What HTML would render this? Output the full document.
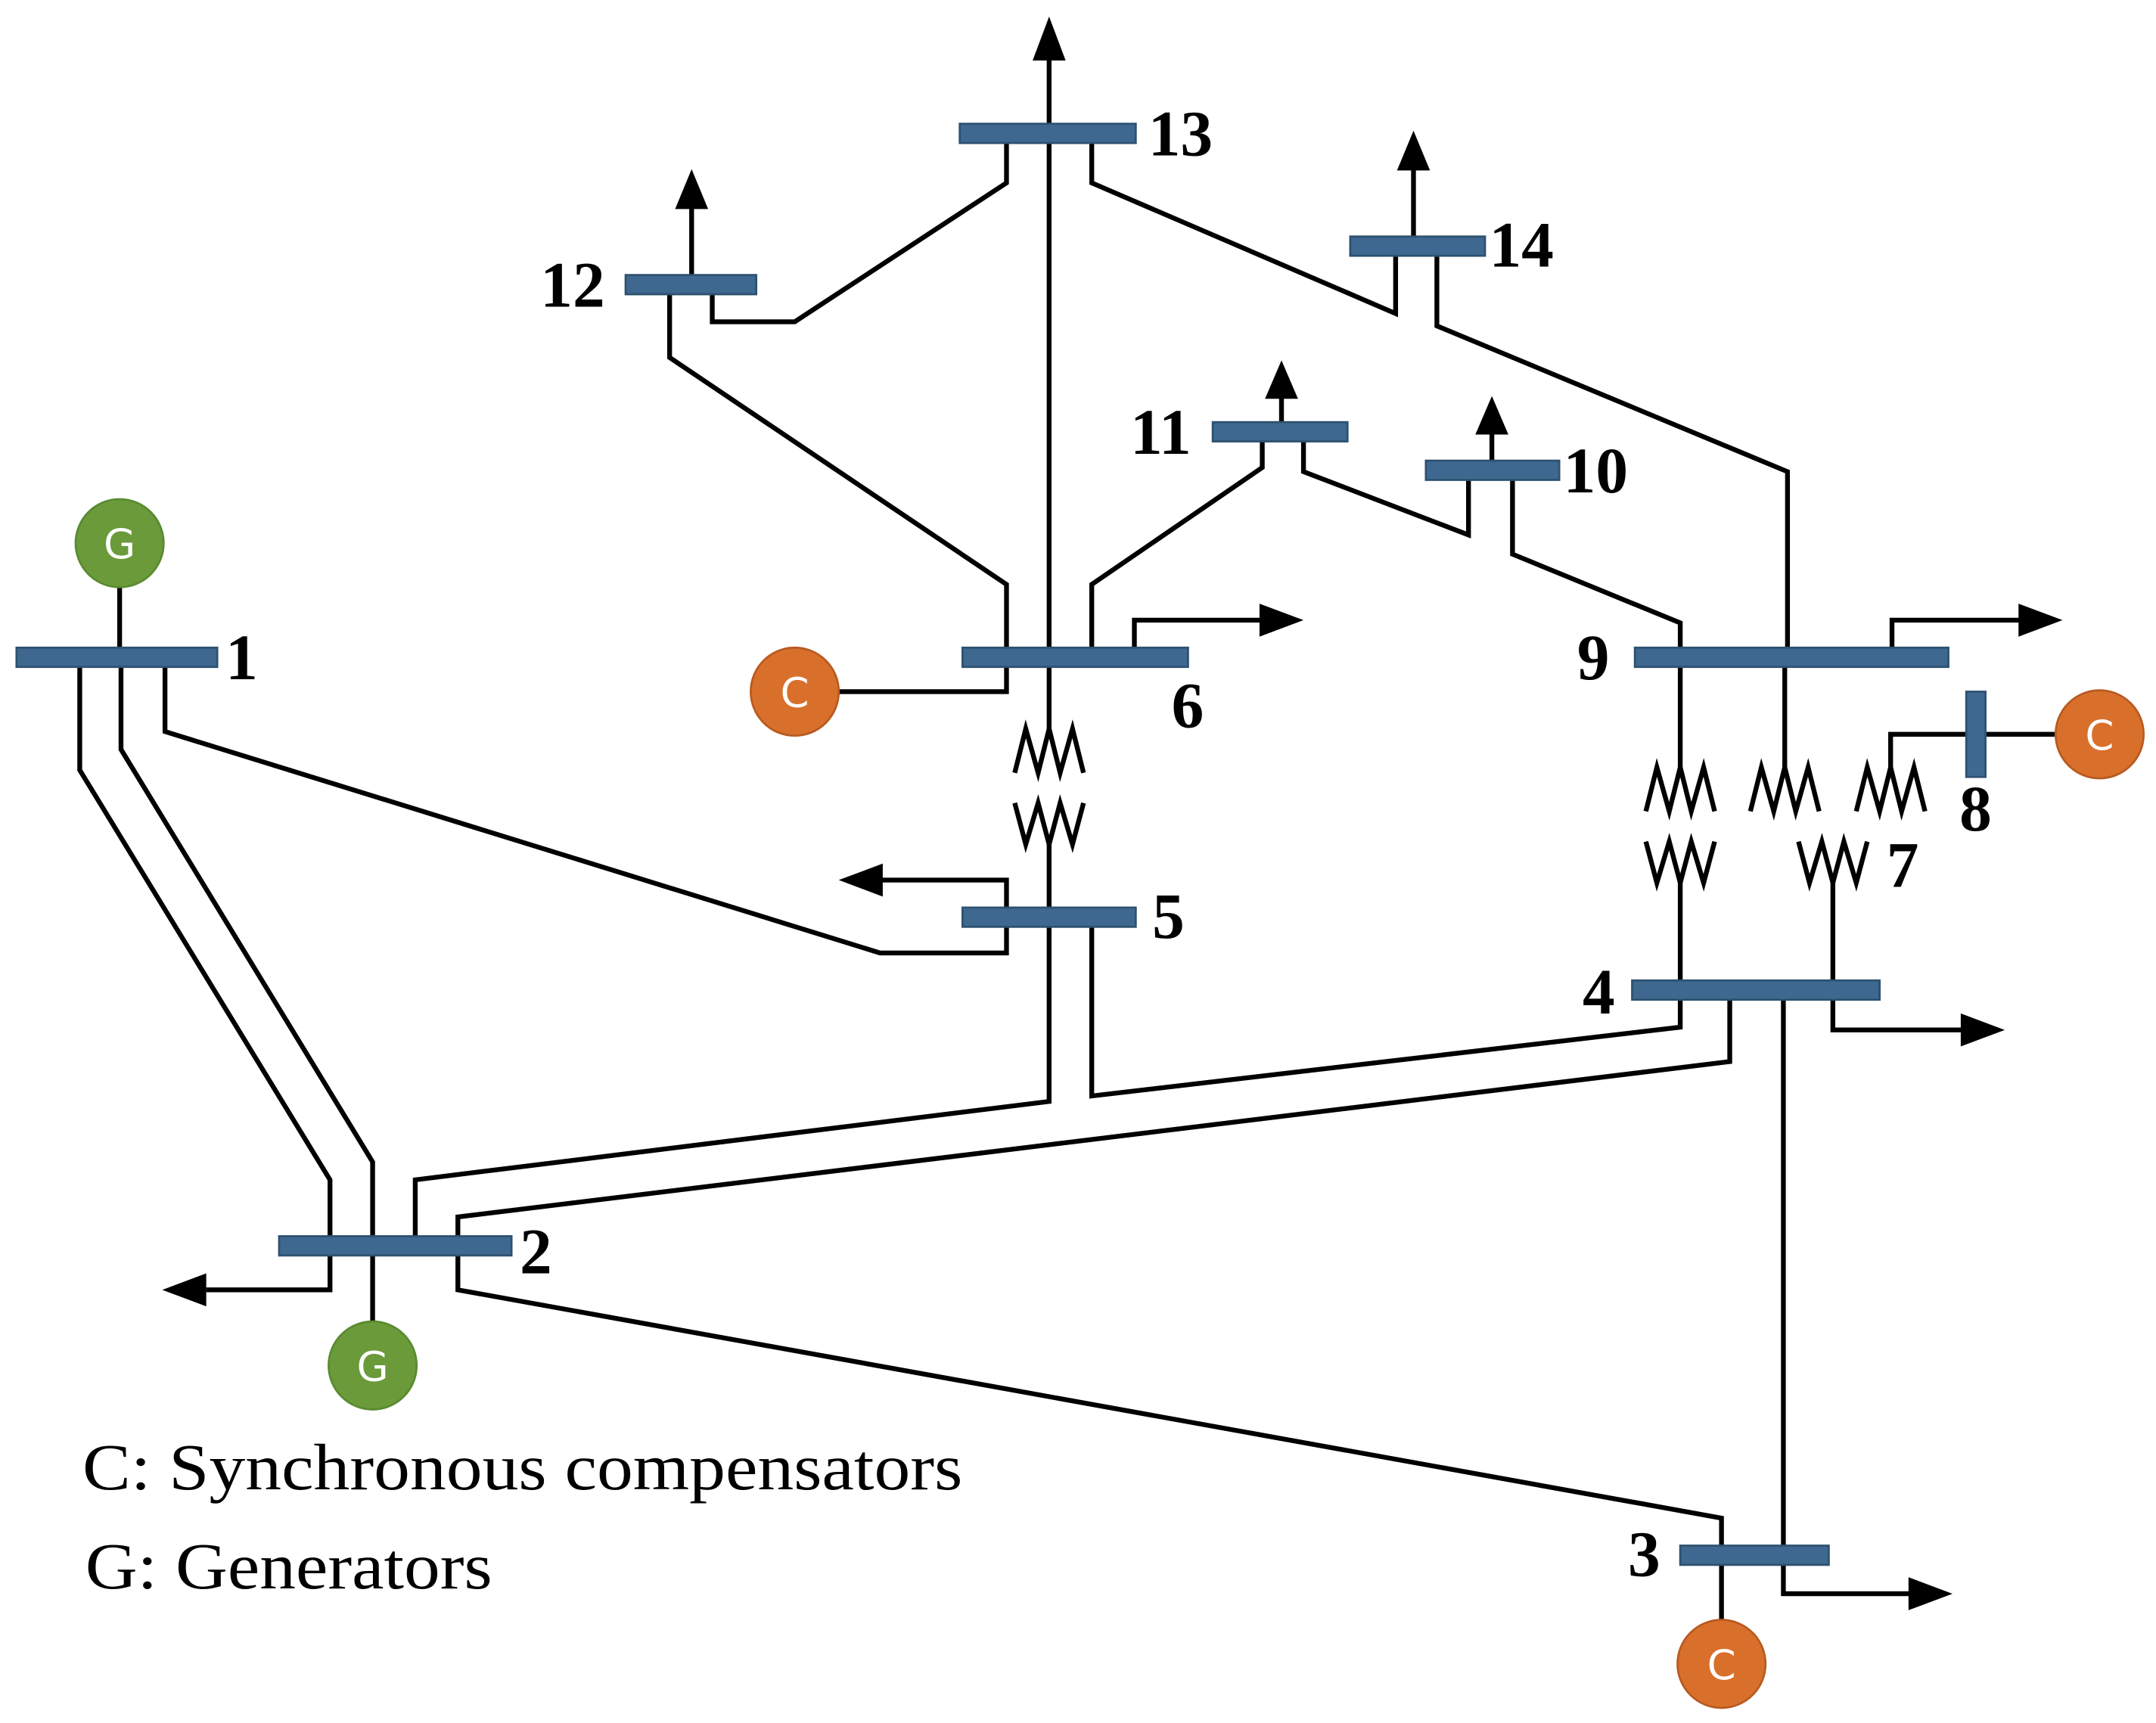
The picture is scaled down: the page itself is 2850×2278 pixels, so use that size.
<!DOCTYPE html>
<html><head><meta charset="utf-8"><style>
html,body{margin:0;padding:0;background:#fff}
svg{display:block}
.l{fill:none;stroke:#000;stroke-width:3.5;stroke-linejoin:miter}
.b{fill:#3e6890;stroke:#2e5170;stroke-width:1.5}
.t{font-family:"Liberation Serif",serif;font-weight:bold;font-size:47px;fill:#000}
.g{fill:#6a9a3a;stroke:#5a8a30;stroke-width:1.5}
.c{fill:#d8702c;stroke:#b85a20;stroke-width:1.5}
.ct{font-family:"DejaVu Sans",sans-serif;font-size:30px;fill:#fff;text-anchor:middle}
.lg{font-family:"Liberation Serif",serif;font-size:48px;fill:#000}
</style></head><body>
<svg width="2850" height="2278" viewBox="0 0 1568 1253" preserveAspectRatio="none" xmlns="http://www.w3.org/2000/svg">
<g class="l">
<polyline points="58,484 58,560 240,858 240,906"/>
<polyline points="88,484 88,545 271,845 271,962"/>
<line x1="87" y1="420" x2="87" y2="478"/>
<polyline points="120,484 120,532 640,693 732,693 732,667"/>
<polyline points="732,667 732,640 640,640"/>
<polyline points="240,906 240,938 150,938"/>
<polyline points="302,906 302,858 763,801 763,667"/>
<polyline points="794,667 794,797 1222,747 1222,720"/>
<polyline points="333,906 333,885 1258,772 1258,720"/>
<polyline points="333,906 333,938 1252,1104 1252,1180"/>
<polyline points="1297,720 1297,1159 1390,1159"/>
<polyline points="1333,720 1333,749 1428,749"/>
<line x1="1222" y1="720" x2="1222" y2="642"/>
<polyline points="1197,612 1205,642 1214,612 1222,642 1230,612 1239,642 1247,612"/>
<polyline points="1197,590 1205,558 1214,590 1222,558 1230,590 1239,558 1247,590"/>
<line x1="1222" y1="558" x2="1222" y2="478"/>
<line x1="1333" y1="720" x2="1333" y2="642"/>
<polyline points="1308,612 1316,642 1325,612 1333,642 1341,612 1350,642 1358,612"/>
<polyline points="1273,590 1281,558 1290,590 1298,558 1306,590 1315,558 1323,590"/>
<line x1="1298" y1="558" x2="1298" y2="478"/>
<polyline points="1350,590 1358,558 1367,590 1375,558 1383,590 1392,558 1400,590"/>
<polyline points="1375,558 1375,534 1497,534"/>
<line x1="763" y1="667" x2="763" y2="614"/>
<polyline points="738,584 746,614 755,584 763,614 771,584 780,614 788,584"/>
<polyline points="738,562 746,530 755,562 763,530 771,562 780,530 788,562"/>
<line x1="763" y1="530" x2="763" y2="42"/>
<polyline points="825,478 825,451 918,451"/>
<polyline points="610,503 732,503 732,478"/>
<polyline points="732,478 732,425 487,260 487,207"/>
<polyline points="794,478 794,425 918,340 918,314"/>
<line x1="932" y1="314" x2="932" y2="288"/>
<polyline points="948,314 948,343 1068,389 1068,342"/>
<line x1="1085" y1="342" x2="1085" y2="314"/>
<polyline points="1100,342 1100,403 1222,453 1222,478"/>
<polyline points="1376,478 1376,451 1470,451"/>
<polyline points="1300,478 1300,343 1045,237 1045,179"/>
<line x1="1028" y1="179" x2="1028" y2="122"/>
<polyline points="794,97 794,133 1015,228 1015,179"/>
<polyline points="518,207 518,234 578,234 732,133 732,97"/>
<line x1="503" y1="207" x2="503" y2="150"/>
</g>
<g fill="#000">
<path d="M610,640 L642,628 L642,652z"/>
<path d="M118,938 L150,926 L150,950z"/>
<path d="M1420,1159 L1388,1147 L1388,1171z"/>
<path d="M1458,749 L1426,737 L1426,761z"/>
<path d="M948,451 L916,439 L916,463z"/>
<path d="M1500,451 L1468,439 L1468,463z"/>
<path d="M763,12 L751,44 L775,44z"/>
<path d="M932,262 L920,290 L944,290z"/>
<path d="M1085,288 L1073,316 L1097,316z"/>
<path d="M1028,95 L1016,124 L1040,124z"/>
<path d="M503,123 L491,152 L515,152z"/>
</g>
<rect class="b" x="12" y="471" width="146" height="14"/>
<rect class="b" x="203" y="899" width="169" height="14"/>
<rect class="b" x="1222" y="1124" width="108" height="14"/>
<rect class="b" x="1187" y="713" width="180" height="14"/>
<rect class="b" x="700" y="660" width="126" height="14"/>
<rect class="b" x="700" y="471" width="164" height="14"/>
<rect class="b" x="1189" y="471" width="228" height="14"/>
<rect class="b" x="698" y="90" width="128" height="14"/>
<rect class="b" x="455" y="200" width="95" height="14"/>
<rect class="b" x="982" y="172" width="98" height="14"/>
<rect class="b" x="882" y="307" width="98" height="14"/>
<rect class="b" x="1037" y="335" width="97" height="14"/>
<rect class="b" x="1430" y="503" width="14" height="62"/>
<circle class="g" cx="87" cy="395" r="32"/><text class="ct" x="87" y="406">G</text>
<circle class="g" cx="271" cy="993" r="32"/><text class="ct" x="271" y="1004">G</text>
<circle class="c" cx="578" cy="503" r="32"/><text class="ct" x="578" y="514">C</text>
<circle class="c" cx="1527" cy="534" r="32"/><text class="ct" x="1527" y="545">C</text>
<circle class="c" cx="1252" cy="1210" r="32"/><text class="ct" x="1252" y="1221">C</text>
<text class="t" x="164" y="494">1</text>
<text class="t" x="378" y="926">2</text>
<text class="t" x="1184" y="1146">3</text>
<text class="t" x="1151" y="737">4</text>
<text class="t" x="838" y="682">5</text>
<text class="t" x="852" y="529">6</text>
<text class="t" x="1372" y="645">7</text>
<text class="t" x="1425" y="604">8</text>
<text class="t" x="1147" y="494">9</text>
<text class="t" x="1137" y="358">10</text>
<text class="t" x="822" y="330">11</text>
<text class="t" x="393" y="223">12</text>
<text class="t" x="835" y="113">13</text>
<text class="t" x="1083" y="194">14</text>
<text class="lg" x="60" y="1083" textLength="640" lengthAdjust="spacingAndGlyphs">C: Synchronous compensators</text>
<text class="lg" x="62" y="1155" textLength="296" lengthAdjust="spacingAndGlyphs">G: Generators</text>
</svg>
</body></html>
